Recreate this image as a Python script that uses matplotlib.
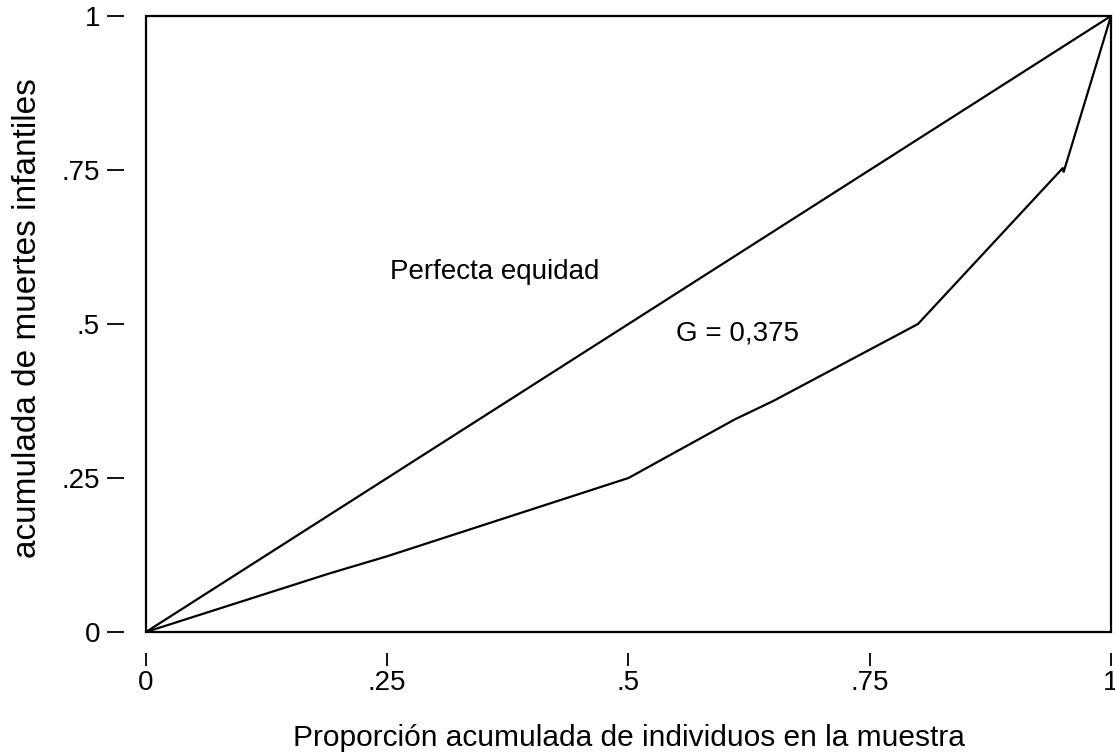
import numpy as np
import matplotlib.pyplot as plt

plt.rcParams['font.family'] = ['Liberation Sans', 'DejaVu Sans']

# Lorenz curve points (proportion of individuals, cumulative share of deaths)
pop_share = [0, 0.19, 0.25, 0.50, 0.61, 0.65, 0.80, 0.950, 0.951, 1.0]
death_share = [0, 0.095, 0.123, 0.25, 0.345, 0.375, 0.50, 0.753, 0.747, 1.0]
equality = [0, 1]

tick_vals = [0, 0.25, 0.5, 0.75, 1]
tick_labels = ['0', '.25', '.5', '.75', '1']

fig = plt.figure(figsize=(11.15, 7.54), dpi=100)
ax = fig.add_axes([0.1309, 0.1618, 0.9964 - 0.1309, 0.9788 - 0.1618])

ax.plot(equality, equality, color='black', lw=1.6, clip_on=False, solid_capstyle='round')
ax.plot(pop_share, death_share, color='black', lw=1.6, clip_on=False, solid_capstyle='round')

ax.set_xlim(0, 1)
ax.set_ylim(0, 1)

# box around plot region
ax.add_patch(plt.Rectangle((0, 0), 1, 1, transform=ax.transAxes, fill=False,
                           lw=1.6, ec='black', clip_on=False))

for s in ['top', 'right']:
    ax.spines[s].set_visible(False)
ax.spines['left'].set_position(('outward', 16))
ax.spines['bottom'].set_position(('outward', 15))
ax.spines['left'].set_color('none')
ax.spines['bottom'].set_color('none')

ax.set_xticks(tick_vals)
ax.set_xticklabels(tick_labels)
ax.set_yticks(tick_vals)
ax.set_yticklabels(tick_labels)
ax.tick_params(axis='y', length=12, width=1.3, pad=5, labelsize=20, color='black')
ax.tick_params(axis='x', length=9.5, width=1.3, pad=3, labelsize=20, color='black')

ax.text(0.253, 0.584, 'Perfecta equidad', fontsize=20, va='center', ha='left')
ax.text(0.549, 0.485, 'G = 0,375', fontsize=20, va='center', ha='left')

ax.set_xlabel('Proporción acumulada de individuos en la muestra', fontsize=21.5, labelpad=20)
ax.set_ylabel('acumulada de muertes infantiles', fontsize=24)
ax.yaxis.set_label_coords(-0.107, 0.51)

fig.savefig('out.png', dpi=100)
